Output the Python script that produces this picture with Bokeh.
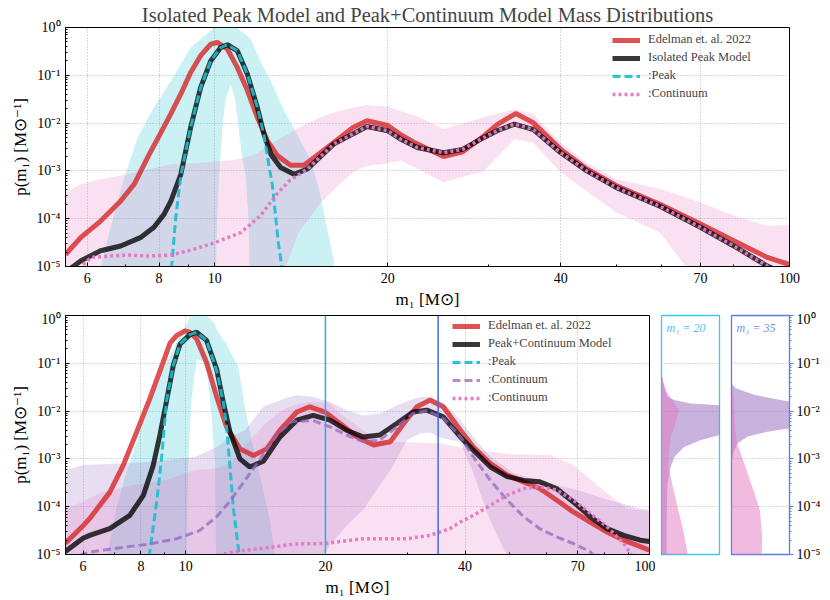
import numpy as np
from bokeh.plotting import figure
from bokeh.models import (Range1d, FixedTicker, CustomJSTickFormatter, Legend, LegendItem,
                          Span, Label, Grid)
from bokeh.layouts import column, row
from bokeh.embed import file_html
from bokeh.resources import INLINE

# ---------------- data (log10 of p(m1)) ----------------
# top panel: Isolated Peak model
m_red_top = [5.5, 5.85, 6.33, 6.86, 7.24, 7.64, 8.06, 8.39, 8.73, 9.08, 9.45, 9.84, 10.1, 10.52, 10.95, 11.4, 11.86, 12.35, 12.85, 13.55,
             14.3, 16.1, 17.4, 18.4, 20.0, 21.1, 22.2, 25.0, 27.0, 29.4, 31.0, 33.4, 35.8, 40.0, 44.4, 50.0, 59.5, 70.0, 80.0, 91.5, 100.0]
red_top = [-4.75, -4.39, -4.05, -3.63, -3.28, -2.72, -2.20, -1.80, -1.39, -0.94, -0.59, -0.35, -0.31, -0.45, -0.84, -1.32, -1.88, -2.37, -2.68, -2.88,
           -2.88, -2.41, -2.09, -1.95, -2.05, -2.25, -2.40, -2.70, -2.60, -2.27, -2.03, -1.80, -1.99, -2.55, -2.96, -3.31, -3.70, -4.11, -4.46, -4.81, -4.96]

m_blk_top = [5.5, 5.85, 6.33, 6.86, 7.44, 7.84, 8.16, 8.39, 8.73, 9.08, 9.45, 9.84, 10.24, 10.52, 10.95, 11.4, 11.86, 12.18, 12.52, 13.02,
             13.74, 14.5, 16.1, 18.4, 20.0, 21.1, 22.5, 25.0, 27.0, 29.4, 31.0, 33.2, 35.8, 40.0, 44.4, 50.0, 59.5, 70.0, 80.0, 91.5, 100.0]
blk_top = [-5.12, -4.88, -4.67, -4.57, -4.39, -4.18, -3.91, -3.63, -3.07, -2.09, -1.26, -0.70, -0.42, -0.36, -0.49, -0.98, -1.67, -2.23, -2.65, -2.93,
           -3.07, -2.96, -2.44, -2.07, -2.16, -2.34, -2.51, -2.62, -2.55, -2.30, -2.16, -2.02, -2.13, -2.62, -3.0, -3.35, -3.74, -4.18, -4.57, -4.99, -5.2]

m_pk_top = [8.41, 8.55, 8.73, 9.08, 9.45, 9.84, 10.24, 10.52, 10.95, 11.4, 11.86, 12.18, 12.45, 12.6, 12.9, 13.1]
pk_top = [-5.05, -4.0, -3.1, -2.09, -1.26, -0.70, -0.42, -0.36, -0.49, -0.98, -1.67, -2.25, -2.95, -3.3, -4.5, -5.05]

m_ct_top = [5.8, 6.09, 6.59, 7.05, 7.64, 8.39, 9.0, 9.96, 11.1, 12.0, 12.9, 13.5, 14.5, 16.1, 18.4, 20.0, 21.1, 22.5, 25.0, 27.0,
            29.4, 31.0, 33.2, 35.8, 40.0, 44.4, 50.0, 59.5, 70.0, 80.0, 91.5, 100.0]
ct_top = [-5.05, -4.81, -4.78, -4.76, -4.78, -4.76, -4.67, -4.51, -4.29, -3.94, -3.45, -3.2, -2.96, -2.44, -2.07, -2.16, -2.34, -2.51, -2.62, -2.55,
          -2.30, -2.16, -2.02, -2.13, -2.62, -3.0, -3.35, -3.74, -4.18, -4.57, -4.99, -5.2]

m_pkb_top = [6.3, 6.33, 6.59, 6.96, 7.34, 7.84, 8.39, 9.08, 9.84, 10.0, 10.1, 10.17, 10.31, 10.45, 10.66, 10.85, 11.0, 11.1, 11.32, 11.45,
             11.55, 12.0, 12.52, 13.2, 13.9, 14.7, 15.2, 16.1, 16.3]
pkb_hi_top = [-6.0, -5.02, -4.18, -3.14, -2.30, -1.67, -1.12, -0.42, -0.07, 0.02, 0.05, 0.05, 0.05, 0.05, 0.05, 0.02, -0.03, -0.07, -0.15, -0.2,
              -0.24, -0.70, -1.12, -1.74, -2.23, -2.79, -3.4, -4.85, -6.0]
pkb_lo_top = [-6.0, -6.0, -6.0, -6.0, -6.0, -6.0, -6.0, -6.0, -6.0, -6.0, -4.0, -3.14, -2.09, -1.5, -1.19, -1.5, -2.09, -2.5, -3.14, -4.0,
              -6.0, -6.0, -6.0, -6.0, -6.0, -6.0, -6.0, -6.0, -6.0]

m_ctb_top = [5.5, 5.85, 6.33, 7.05, 7.74, 8.39, 9.45, 10.8, 11.7, 12.6, 13.3, 14.0, 15.3, 16.1, 17.4, 18.4, 20.0, 21.1, 22.5, 25.0,
             29.4, 33.2, 35.8, 40.0, 44.4, 50.0, 59.5, 66.0, 70.0, 80.0, 91.5, 100.0]
ctb_hi_top = [-3.45, -3.28, -3.17, -3.07, -2.96, -2.86, -2.83, -2.77, -2.67, -2.42, -2.25, -2.09, -1.88, -1.78, -1.68, -1.62, -1.66, -1.75, -1.85, -2.13,
              -1.88, -1.71, -1.81, -2.41, -2.83, -3.17, -3.38, -3.55, -3.66, -3.94, -4.15, -4.13]
ctb_lo_top = [-6.0, -6.0, -6.0, -6.0, -6.0, -6.0, -6.0, -6.0, -6.0, -6.0, -5.0, -4.29, -3.66, -3.4, -3.03, -2.9, -2.84, -2.78, -2.95, -3.24,
              -3.0, -2.34, -2.41, -3.03, -3.43, -3.87, -4.29, -5.0, -6.0, -6.0, -6.0, -6.0]

# bottom panel: Peak+Continuum model
m_red_bot = [5.49, 6.0, 6.2, 6.85, 7.32, 7.83, 8.36, 8.93, 9.24, 9.55, 9.95, 10.2, 10.55, 11.08, 11.65, 12.24, 13.08, 13.98, 14.94, 15.96,
             17.35, 18.5, 19.95, 21.5, 23.4, 25.4, 27.6, 29.5, 31.5, 33.6, 35.9, 39.1, 41.7, 45.4, 49.3, 53.5, 58.0, 63.0, 68.5, 74.5,
             81.0, 88.0, 100.0]
red_bot = [-4.77, -4.40, -4.25, -3.70, -3.14, -2.44, -1.74, -0.98, -0.58, -0.42, -0.32, -0.35, -0.49, -0.98, -1.70, -2.33, -2.79, -2.93, -2.79, -2.40,
           -2.02, -1.91, -2.02, -2.26, -2.54, -2.71, -2.64, -2.26, -1.91, -1.77, -1.91, -2.40, -2.75, -3.10, -3.34, -3.48, -3.62, -3.86, -4.11, -4.32,
           -4.53, -4.70, -4.91]

m_blk_bot = [5.49, 6.0, 6.2, 6.85, 7.57, 8.09, 8.5, 8.79, 9.08, 9.39, 9.71, 10.2, 10.55, 11.08, 11.65, 12.04, 12.45, 13.08, 13.74, 14.69,
             15.96, 17.35, 18.82, 20.47, 22.2, 24.1, 26.2, 28.5, 30.9, 33.1, 35.9, 39.1, 41.7, 45.4, 49.3, 53.5, 58.0, 63.0, 68.5, 74.5,
             81.0, 88.0, 95.5, 100.0]
blk_bot = [-4.94, -4.66, -4.60, -4.46, -4.18, -3.77, -3.14, -2.50, -1.80, -1.05, -0.60, -0.40, -0.35, -0.52, -1.12, -1.81, -2.44, -3.0, -3.17, -3.05,
           -2.54, -2.19, -2.09, -2.19, -2.40, -2.54, -2.50, -2.26, -2.02, -1.98, -2.12, -2.54, -2.82, -3.17, -3.37, -3.45, -3.48, -3.62, -3.90, -4.21,
           -4.46, -4.60, -4.70, -4.73]

m_pk_bot = [8.33, 8.65, 8.86, 9.08, 9.39, 9.71, 10.2, 10.55, 11.08, 11.65, 12.04, 12.24, 12.45, 12.65, 12.97, 13.03]
pk_bot = [-5.05, -3.9, -3.0, -1.8, -1.05, -0.60, -0.40, -0.35, -0.52, -1.15, -1.81, -2.33, -3.17, -4.0, -4.84, -5.05]

m_c1_bot = [5.9, 6.2, 7.32, 8.36, 9.55, 10.7, 11.65, 12.34, 13.41, 14.57, 15.82, 16.9, 18.82, 20.47, 22.2, 24.1, 26.2, 28.5, 30.9, 33.1,
            35.9, 39.1, 41.7, 45.4, 49.3, 53.5, 58.0, 63.0, 68.5, 74.5, 76.0]
c1_bot = [-5.02, -4.95, -4.85, -4.78, -4.67, -4.50, -4.21, -3.93, -3.45, -2.96, -2.47, -2.22, -2.20, -2.33, -2.50, -2.64, -2.61, -2.33, -2.05, -1.99,
          -2.15, -2.54, -2.96, -3.45, -3.86, -4.21, -4.46, -4.63, -4.77, -4.94, -5.05]

m_c2_bot = [11.74, 12.45, 13.41, 14.69, 17.2, 19.95, 24.1, 29.95, 33.6, 37.1, 39.1, 41.7, 45.4, 49.3, 53.5, 58.0, 63.0, 68.5, 74.5, 81.0,
            88.0, 91.0, 92.0]
c2_bot = [-5.02, -4.96, -4.91, -4.87, -4.78, -4.77, -4.67, -4.67, -4.60, -4.46, -4.32, -4.18, -3.97, -3.76, -3.62, -3.58, -3.65, -3.86, -4.14, -4.42,
          -4.77, -4.98, -5.05]

m_pkb_bot = [6.7, 6.78, 6.85, 7.08, 7.44, 7.83, 8.22, 8.65, 9.39, 10.0, 10.12, 10.2, 10.29, 10.55, 10.85, 11.08, 11.17, 11.36, 11.55, 11.65,
             12.24, 12.97, 13.41, 13.86, 14.57, 15.18, 15.57, 15.7]
pkb_hi_bot = [-6.0, -5.0, -4.74, -4.04, -3.28, -2.65, -2.02, -1.39, -0.70, -0.2, -0.12, 0.0, 0.05, 0.05, 0.05, 0.0, -0.03, -0.1, -0.18, -0.3,
              -0.6, -1.07, -1.91, -2.61, -3.51, -4.28, -5.0, -6.0]
pkb_lo_bot = [-6.0, -6.0, -6.0, -6.0, -6.0, -6.0, -6.0, -6.0, -6.0, -6.0, -3.14, -2.4, -1.74, -0.91, -0.95, -1.15, -1.4, -2.12, -3.03, -6.0,
              -6.0, -6.0, -6.0, -6.0, -6.0, -6.0, -6.0, -6.0]

m_c1b_bot = [5.49, 6.0, 7.08, 8.36, 10.46, 11.65, 12.45, 13.41, 14.69, 16.5, 17.35, 18.8, 19.95, 20.47, 22.2, 24.1, 26.2, 27.6, 28.5, 29.95,
             31.5, 32.0, 33.6, 35.4, 37.1, 39.1, 41.7, 43.9, 45.4, 49.3, 51.0, 55.3, 63.0, 70.0, 81.0, 90.9, 100.0]
c1b_hi_bot = [-3.24, -3.13, -3.10, -3.06, -2.96, -2.75, -2.54, -2.40, -1.91, -1.72, -1.67, -1.70, -1.78, -1.81, -1.98, -2.09, -2.05, -1.95, -1.88, -1.80,
              -1.72, -1.71, -1.70, -1.80, -1.95, -2.19, -2.54, -2.8, -2.95, -3.2, -3.3, -3.4, -3.55, -3.65, -3.85, -3.98, -4.1]
c1b_lo_bot = [-6.0, -6.0, -6.0, -6.0, -6.0, -6.0, -6.0, -6.0, -6.0, -6.0, -6.0, -6.0, -4.98, -4.8, -4.4, -4.07, -3.55, -3.24, -3.0, -2.61,
              -2.5, -2.47, -2.45, -2.55, -2.6, -2.65, -3.3, -3.93, -4.3, -5.04, -6.0, -6.0, -6.0, -6.0, -6.0, -6.0, -6.0]

m_c2b_bot = [5.49, 6.52, 7.69, 9.08, 10.46, 11.65, 12.45, 13.5, 14.69, 16.0, 17.35, 18.8, 20.47, 21.5, 24.1, 26.6, 30.0, 35.4, 40.0, 49.3,
             61.2, 68.5, 81.0, 89.4, 95.5, 100.0]
c2b_hi_bot = [-4.07, -3.72, -3.55, -3.44, -3.24, -3.2, -3.1, -2.7, -2.3, -2.0, -1.85, -1.8, -1.84, -2.05, -2.40, -2.64, -2.65, -2.68, -2.78, -2.9,
              -2.92, -3.13, -3.72, -4.04, -4.07, -4.04]
c2b_lo_bot = [-6.0] * len(m_c2b_bot)

# side panels: distribution of p(m1) at m1 = 20 and m1 = 35 (width = relative density)
y20_purple = [-1.21, -1.42, -1.70, -1.77, -1.84, -1.88, -1.95, -2.45, -2.50, -2.61, -2.75, -2.96, -3.24, -3.58, -4.28, -5.05]
w20_purple = [0.0, 0.034, 0.10, 0.22, 0.50, 1.0, 1.3, 1.3, 1.0, 0.67, 0.39, 0.22, 0.14, 0.10, 0.09, 0.09]
y20_pink = [-1.25, -1.56, -1.98, -2.26, -2.54, -3.10, -3.38, -3.93, -4.49, -5.05]
w20_pink = [0.0, 0.07, 0.30, 0.24, 0.16, 0.11, 0.16, 0.26, 0.375, 0.46]
y35_purple = [-1.42, -1.52, -1.66, -1.77, -1.80, -1.85, -2.30, -2.36, -2.43, -2.53, -2.68, -2.88, -3.09]
w35_purple = [0.0, 0.075, 0.39, 0.85, 1.0, 1.3, 1.3, 1.0, 0.62, 0.28, 0.10, 0.03, 0.0]
y35_pink = [-1.45, -1.84, -2.40, -2.68, -3.24, -3.80, -4.08, -4.63, -5.05]
w35_pink = [0.0, 0.05, 0.063, 0.10, 0.26, 0.42, 0.49, 0.53, 0.52]

decades = [1e-5, 1e-4, 1e-3, 1e-2, 1e-1, 1.0]
x_major = [6, 8, 10, 20, 40, 70, 100]
x_minor = [7, 9, 30, 50, 60, 80, 90]
y_minor = [k * 10.0 ** e for e in range(-5, 0) for k in range(2, 10)]

# ---------------- style ----------------
SERIF = "Liberation Serif"
C_RED = "#d62728"
C_BLK = "#000000"
C_CYAN = "#17becf"
C_PINK = "#e377c2"
C_PURP = "#9467bd"
C_V20 = "#1cb3ec"
C_V35 = "#4169e1"

SUP_JS = """
const m = {"-": "\u207b", "0": "\u2070", "1": "\u00b9", "2": "\u00b2", "3": "\u00b3", "4": "\u2074", "5": "\u2075"};
const e = Math.round(Math.log10(tick));
return "10" + String(e).split("").map(c => m[c]).join("");
"""


def P(a):
    return 10.0 ** np.asarray(a, dtype=float)


def style_axis(ax, inward=True, size="14px"):
    ax.major_label_text_font = SERIF
    ax.major_label_text_font_size = size
    ax.major_label_text_color = "black"
    ax.axis_label_text_font = SERIF
    ax.axis_label_text_font_size = "17px"
    ax.axis_label_text_font_style = "normal"
    ax.axis_label_text_color = "black"
    ax.axis_line_color = "black"
    ax.major_tick_line_color = "black"
    ax.minor_tick_line_color = "black"
    if inward:
        ax.major_tick_out = 0
        ax.major_tick_in = 4
        ax.minor_tick_out = 0
        ax.minor_tick_in = 2
        ax.major_label_standoff = 5
    else:
        ax.major_tick_out = 4
        ax.major_tick_in = 0
        ax.minor_tick_out = 2
        ax.minor_tick_in = 0
        ax.major_label_standoff = 3
    ax.axis_label_standoff = 4


def main_fig(fw, fh, **kw):
    p = figure(x_axis_type="log", y_axis_type="log", x_range=Range1d(5.5, 100), y_range=Range1d(1e-5, 1),
               frame_width=fw, frame_height=fh, toolbar_location=None, output_backend="svg", **kw)
    p.outline_line_color = "black"
    p.outline_line_alpha = 1.0
    p.xaxis.ticker = FixedTicker(ticks=x_major, minor_ticks=x_minor)
    p.xaxis.formatter = CustomJSTickFormatter(code="return String(Math.round(tick));")
    p.yaxis.ticker = FixedTicker(ticks=decades, minor_ticks=y_minor)
    p.yaxis.formatter = CustomJSTickFormatter(code=SUP_JS)
    p.xaxis.axis_label = "m\u2081 [M\u2299]"
    p.yaxis.axis_label = "p(m\u2081) [M\u2299\u207b\u00b9]"
    style_axis(p.xaxis[0])
    style_axis(p.yaxis[0])
    p.xaxis.major_label_standoff = 6
    p.grid.grid_line_color = "#b4b4b4"
    p.grid.grid_line_dash = "1 2"
    p.grid.grid_line_width = 1
    return p


def band(p, m, lo, hi, color, alpha):
    return p.varea(x=m, y1=P(lo), y2=P(hi), fill_color=color, fill_alpha=alpha)


def make_legend(items, loc):
    leg = Legend(items=[LegendItem(label=l, renderers=[r]) for l, r in items], location=loc)
    leg.label_text_font = SERIF
    leg.label_text_font_size = "12.5px"
    leg.glyph_width = 28
    leg.glyph_height = 14
    leg.label_height = 14
    leg.label_standoff = 8
    leg.padding = 4
    leg.spacing = 3
    leg.margin = 0
    leg.background_fill_alpha = 0
    leg.border_line_alpha = 0
    return leg


# ---------------- top panel ----------------
top = main_fig(724, 239, min_border_left=65, min_border_right=20, min_border_top=25, min_border_bottom=44)
top.title.text = "Isolated Peak Model and Peak+Continuum Model Mass Distributions"
top.title.align = "center"
top.title.text_font = SERIF
top.title.text_font_size = "20.5px"
top.title.text_font_style = "normal"
top.title.standoff = 3

band(top, m_pkb_top, pkb_lo_top, pkb_hi_top, C_CYAN, 0.22)
band(top, m_ctb_top, ctb_lo_top, ctb_hi_top, C_PINK, 0.22)
t_red = top.line(m_red_top, P(red_top), line_color=C_RED, line_width=5, line_alpha=0.8)
t_blk = top.line(m_blk_top, P(blk_top), line_color=C_BLK, line_width=5, line_alpha=0.78)
t_pk = top.line(m_pk_top, P(pk_top), line_color=C_CYAN, line_width=3, line_alpha=0.9, line_dash="8 4")
t_ct = top.line(m_ct_top, P(ct_top), line_color=C_PINK, line_width=3.5, line_alpha=0.95, line_dash="3 3")
top.add_layout(make_legend([("Edelman et. al. 2022", t_red), ("Isolated Peak Model", t_blk),
                            (":Peak", t_pk), (":Continuum", t_ct)], (543, 161)))

# ---------------- bottom panel ----------------
bot = main_fig(584, 239, min_border_left=65, min_border_right=6, min_border_top=4, min_border_bottom=40)
band(bot, m_pkb_bot, pkb_lo_bot, pkb_hi_bot, C_CYAN, 0.22)
band(bot, m_c1b_bot, c1b_lo_bot, c1b_hi_bot, C_PURP, 0.22)
band(bot, m_c2b_bot, c2b_lo_bot, c2b_hi_bot, C_PINK, 0.22)
b_red = bot.line(m_red_bot, P(red_bot), line_color=C_RED, line_width=5, line_alpha=0.8)
b_blk = bot.line(m_blk_bot, P(blk_bot), line_color=C_BLK, line_width=5, line_alpha=0.78)
b_pk = bot.line(m_pk_bot, P(pk_bot), line_color=C_CYAN, line_width=3, line_alpha=0.9, line_dash="8 4")
b_c1 = bot.line(m_c1_bot, P(c1_bot), line_color=C_PURP, line_width=3, line_alpha=0.75, line_dash="8 4")
b_c2 = bot.line(m_c2_bot, P(c2_bot), line_color=C_PINK, line_width=3.5, line_alpha=0.95, line_dash="3 3")
bot.add_layout(Span(location=20, dimension="height", line_color=C_V20, line_width=1.5))
bot.add_layout(Span(location=35, dimension="height", line_color=C_V35, line_width=1.5))
bot.add_layout(make_legend([("Edelman et. al. 2022", b_red), ("Peak+Continuum Model", b_blk),
                            (":Peak", b_pk), (":Continuum", b_c1), (":Continuum", b_c2)], (383, 145)))


# ---------------- side panels ----------------
def side_fig(color, label_text, label_color, right_axis):
    p = figure(x_range=Range1d(0, 1), y_axis_type="log", y_range=Range1d(1e-5, 1),
               frame_width=58, frame_height=239, x_axis_location=None,
               y_axis_location=("right" if right_axis else None),
               toolbar_location=None, output_backend="svg",
               min_border_left=6, min_border_right=(30 if right_axis else 6),
               min_border_top=4, min_border_bottom=40)
    p.grid.visible = False
    p.add_layout(Grid(dimension=1, ticker=FixedTicker(ticks=[1e-4, 1e-3, 1e-2, 1e-1]),
                      grid_line_color="#b4b4b4", grid_line_dash="1 2"))
    p.outline_line_color = color
    p.outline_line_width = 1.3
    p.outline_line_alpha = 1.0
    p.add_layout(Label(x=5, y=227, x_units="screen", y_units="screen", text=label_text,
                       text_font=SERIF, text_font_size="12px", text_font_style="italic",
                       text_color=label_color, text_baseline="middle"))
    if right_axis:
        ax = p.yaxis[0]
        ax.ticker = FixedTicker(ticks=decades, minor_ticks=y_minor)
        ax.formatter = CustomJSTickFormatter(code=SUP_JS)
        style_axis(ax, inward=False)
        ax.axis_line_color = color
        ax.major_tick_line_color = color
        ax.minor_tick_line_color = color
    return p


s20 = side_fig("#3fc5f0", "m\u2081 = 20", "#3fc5f0", False)
s20.harea(y=P(y20_purple), x1=0, x2=w20_purple, fill_color=C_PURP, fill_alpha=0.5)
s20.harea(y=P(y20_pink), x1=0, x2=w20_pink, fill_color=C_PINK, fill_alpha=0.5)

s35 = side_fig("#5a7de6", "m\u2081 = 35", "#6e8ee8", True)
s35.harea(y=P(y35_purple), x1=0, x2=w35_purple, fill_color=C_PURP, fill_alpha=0.5)
s35.harea(y=P(y35_pink), x1=0, x2=w35_pink, fill_color=C_PINK, fill_alpha=0.5)

layout = column(top, row(bot, s20, s35))
open("out.html", "w").write(file_html(layout, INLINE))
